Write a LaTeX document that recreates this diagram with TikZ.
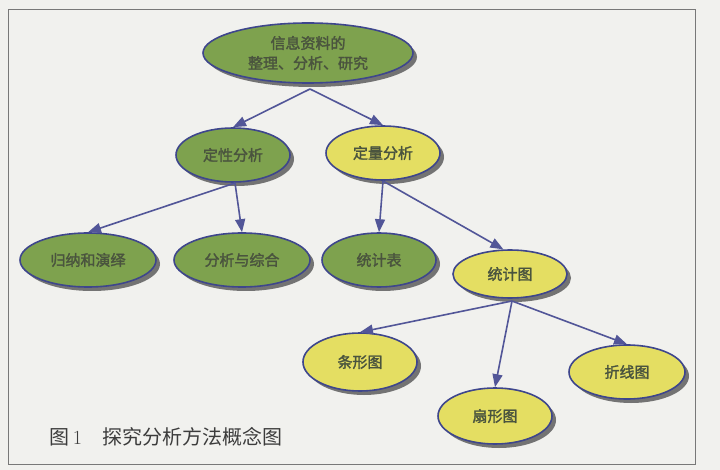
\documentclass[tikz,border=0pt]{standalone}
\usepackage{fontspec}
\newfontfamily\cjk{Noto Sans CJK SC}
\newfontfamily\cjkb{Noto Sans CJK SC}[FakeBold=2]
\usetikzlibrary{shapes.geometric,shadows,arrows.meta}
\definecolor{bgc}{RGB}{241,241,238}
\definecolor{gfill}{RGB}{126,162,78}
\definecolor{yfill}{RGB}{228,222,98}
\definecolor{edgec}{RGB}{62,70,140}
\definecolor{arrc}{RGB}{82,86,152}
\definecolor{txtc}{RGB}{74,84,62}
\definecolor{framec}{RGB}{120,120,120}
\definecolor{capc}{RGB}{60,60,60}
\tikzset{
  bubble/.style={ellipse, draw=edgec, line width=1.6pt, inner sep=0pt,
    text=txtc, font=\cjkb\fontsize{15}{20}\selectfont, align=center,
    drop shadow={shadow xshift=4pt, shadow yshift=-4pt, fill=black!60, opacity=0.9}},
  gbub/.style={bubble, fill=gfill},
  ybub/.style={bubble, fill=yfill},
  link/.style={draw=arrc, line width=1.6pt, -{Triangle[length=13pt,width=10pt]}},
}
\begin{document}
\begin{tikzpicture}[x=1pt,y=-1pt]
\useasboundingbox (0,0) rectangle (720,470);
\fill[bgc] (0,0) rectangle (720,470);
\draw[framec, line width=0.8pt] (8,9) rectangle (695,464);

\node[gbub, minimum width=210pt, minimum height=60pt] (root) at (308,53) {信息资料的\\整理、分析、研究};
\node[gbub, minimum width=114pt, minimum height=54pt] (dx) at (233,155) {定性分析};
\node[ybub, minimum width=114pt, minimum height=54pt] (dl) at (383,153) {定量分析};
\node[gbub, minimum width=136pt, minimum height=54pt] (gn) at (88,260) {归纳和演绎};
\node[gbub, minimum width=136pt, minimum height=54pt] (fx) at (242,260) {分析与综合};
\node[gbub, minimum width=114pt, minimum height=54pt] (tjb) at (379,260) {统计表};
\node[ybub, minimum width=114pt, minimum height=48pt] (tjt) at (510,274) {统计图};
\node[ybub, minimum width=114pt, minimum height=58pt] (tx) at (360,362) {条形图};
\node[ybub, minimum width=114pt, minimum height=56pt] (sx) at (495,416) {扇形图};
\node[ybub, minimum width=116pt, minimum height=54pt] (zx) at (627,372) {折线图};

\coordinate (r0) at (310,89);
\coordinate (d0) at (235,183);
\coordinate (l0) at (383,181);
\coordinate (t0) at (512,301);

\draw[link] (r0) -- (dx.north);
\draw[link] (r0) -- (dl.north);
\draw[link] (d0) -- (gn.north);
\draw[link] (d0) -- (fx.north);
\draw[link] (l0) -- (tjb.north);
\draw[link] (l0) -- (tjt.105);
\draw[link] (t0) -- (tx.north);
\draw[link] (t0) -- (sx.north);
\draw[link] (t0) -- (zx.north);

\node[anchor=west, text=capc, font=\cjk\fontsize{20}{24}\selectfont] (cap) at (46,437) {图\,{\rmfamily 1}\quad 探究分析方法概念图};
\end{tikzpicture}
\end{document}
